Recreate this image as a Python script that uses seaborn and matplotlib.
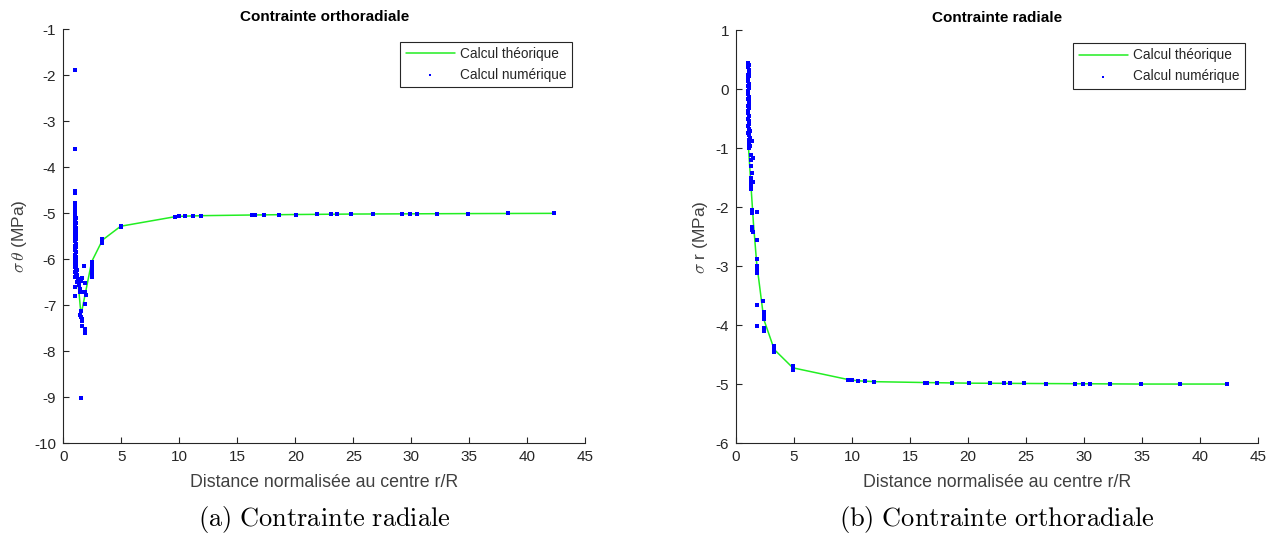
import numpy as np
import pandas as pd
import matplotlib
matplotlib.use("Agg")
import matplotlib.pyplot as plt
import seaborn as sns

# Data
# -------------------------------
# far-field node positions (same mesh on both plots)
far_x = [9.63, 10.0, 10.5, 11.15, 11.87, 16.3, 16.5, 17.3, 18.6, 20.1, 21.9,
         23.1, 23.6, 24.8, 26.7, 29.2, 29.9, 30.5, 32.2, 34.9, 38.3, 42.3]
far_ortho = [-5.07, -5.065, -5.06, -5.055, -5.05, -5.035, -5.035, -5.03, -5.03,
             -5.025, -5.02, -5.02, -5.02, -5.015, -5.015, -5.01, -5.01, -5.01,
             -5.008, -5.005, -5.003, -5.0]
far_radial = [-4.92, -4.93, -4.94, -4.95, -4.955, -4.97, -4.97, -4.97, -4.975,
              -4.98, -4.98, -4.985, -4.985, -4.985, -4.99, -4.99, -4.99, -4.99,
              -4.99, -4.995, -4.995, -4.995]

# orthoradial stress, numerical values near the hole
ortho_near_x = [1.00, 1.00, 1.00, 1.02, 1.00, 1.03, 1.00, 1.05, 1.02, 1.07, 1.00,
                1.04, 1.08, 1.02, 1.06, 1.00, 1.10, 1.04, 1.07, 1.01, 1.12, 1.05,
                1.08, 1.02, 1.10, 1.04, 1.12, 1.00, 1.07, 1.00, 1.10, 1.04, 1.14,
                1.02, 1.08, 1.16, 1.05, 1.12, 1.20, 1.00, 1.25, 1.30, 1.18, 1.40,
                1.50, 1.62, 1.35, 1.45, 1.55, 1.80, 1.90, 1.00, 1.00, 1.90, 1.95,
                1.90, 1.45, 1.55, 1.60, 1.62, 1.60, 1.90, 1.90, 1.55, 1.40, 1.50,
                2.45, 2.45, 2.45, 2.45, 2.45, 2.45, 3.38, 3.38, 3.38, 4.95, 4.97]
ortho_near_y = [-1.88, -3.60, -4.52, -4.56, -4.78, -4.84, -4.92, -4.98, -5.05, -5.10,
                -5.14, -5.18, -5.22, -5.27, -5.31, -5.35, -5.38, -5.42, -5.47, -5.52,
                -5.55, -5.60, -5.66, -5.70, -5.74, -5.80, -5.85, -5.90, -5.95, -6.00,
                -6.03, -6.08, -6.12, -6.16, -6.20, -6.24, -6.28, -6.32, -6.35, -6.38,
                -6.42, -6.46, -6.50, -6.44, -6.48, -6.40, -6.55, -6.65, -6.72, -6.15,
                -6.52, -6.60, -6.80, -6.70, -6.78, -6.97, -7.22, -7.25, -7.30, -7.35,
                -7.45, -7.51, -7.60, -9.02, -6.72, -7.12,
                -6.05, -6.12, -6.18, -6.25, -6.32, -6.38, -5.56, -5.60, -5.64,
                -5.28, -5.30]

# orthoradial stress, theoretical curve
ortho_th_x = [1.2, 1.35, 1.53, 2.45, 3.38, 4.95, 9.7, 10.5, 12.0, 16.5, 20.1,
              25.0, 30.0, 35.0, 42.3]
ortho_th_y = [-6.40, -6.70, -7.21, -6.05, -5.58, -5.28, -5.07, -5.06, -5.05,
              -5.035, -5.025, -5.015, -5.01, -5.005, -5.0]

# radial stress, numerical values near the hole
radial_near_x = [1.05, 1.10, 1.02, 1.08, 1.12, 1.04, 1.10, 1.00, 1.07, 1.13, 1.03,
                 1.09, 1.00, 1.06, 1.12, 1.02, 1.08, 1.14, 1.04, 1.10, 1.00, 1.07,
                 1.13, 1.03, 1.09, 1.15, 1.05, 1.11, 1.18, 1.07, 1.13, 1.20, 1.10,
                 1.35, 1.16, 1.22, 1.12,
                 1.25, 1.50, 1.30, 1.28, 1.40, 1.30, 1.50, 1.25, 1.32, 1.30, 1.40,
                 1.42, 1.80, 1.40, 1.42, 1.43, 1.78, 1.78, 1.78, 1.78, 1.78, 1.78,
                 1.78, 2.35, 2.40, 2.40, 2.40, 2.42, 2.42, 3.30, 3.30, 3.30, 4.90,
                 4.90, 4.92]
radial_near_y = [0.45, 0.42, 0.38, 0.33, 0.30, 0.25, 0.22, 0.18, 0.14, 0.10, 0.05,
                 0.02, -0.03, -0.07, -0.12, -0.16, -0.20, -0.24, -0.28, -0.32, -0.36,
                 -0.40, -0.45, -0.50, -0.54, -0.58, -0.62, -0.67, -0.70, -0.74, -0.78,
                 -0.82, -0.86, -0.88, -0.92, -0.96, -0.99,
                 -1.12, -1.16, -1.20, -1.30, -1.41, -1.50, -1.57, -1.56, -1.62, -1.68,
                 -2.05, -2.10, -2.07, -2.33, -2.38, -2.42, -2.56, -2.87, -3.00, -3.06,
                 -3.12, -3.66, -4.01, -3.59, -3.77, -3.84, -3.90, -4.04, -4.10, -4.35,
                 -4.40, -4.46, -4.69, -4.73, -4.76]

# radial stress, theoretical curve
radial_th_x = [1.05, 1.2, 1.5, 1.78, 2.4, 3.3, 4.9, 9.7, 10.5, 12.0, 16.5, 20.1,
               25.0, 30.0, 35.0, 42.3]
radial_th_y = [-0.90, -1.36, -2.26, -2.94, -3.90, -4.41, -4.72, -4.92, -4.94,
               -4.955, -4.97, -4.98, -4.985, -4.99, -4.995, -4.995]

# Plot
# -------------------------------
sns.set_style("ticks")
plt.rcParams["font.family"] = ["Liberation Sans", "DejaVu Sans"]
plt.rcParams["mathtext.fontset"] = "cm"
plt.rcParams["axes.unicode_minus"] = False
plt.rcParams["xtick.direction"] = "in"
plt.rcParams["ytick.direction"] = "in"
grey = "#262626"
plt.rcParams["axes.edgecolor"] = grey
plt.rcParams["xtick.color"] = grey
plt.rcParams["ytick.color"] = grey
plt.rcParams["axes.labelcolor"] = "#404040"

fig = plt.figure(figsize=(12.78, 5.39), dpi=100)
ax1 = fig.add_axes([0.0495, 0.1775, 0.4085, 0.768])
ax2 = fig.add_axes([0.5759, 0.1775, 0.4085, 0.766])

panels = [
    (ax1, ortho_th_x, ortho_th_y, ortho_near_x + far_x, ortho_near_y + far_ortho,
     "Contrainte orthoradiale", r"$\sigma\,\theta$ (MPa)", (-10, -1),
     r"$\mathrm{(a)\ Contrainte\ radiale}$"),
    (ax2, radial_th_x, radial_th_y, radial_near_x + far_x, radial_near_y + far_radial,
     "Contrainte radiale", r"$\sigma$ r (MPa)", (-6, 1),
     r"$\mathrm{(b)\ Contrainte\ orthoradiale}$"),
]

for ax, tx, ty, nx, ny, title, ylab, ylim, caption in panels:
    sns.lineplot(x=tx, y=ty, ax=ax, color="#22ee22", linewidth=1.1,
                 estimator=None, sort=False, label="Calcul théorique")
    sns.scatterplot(x=nx, y=ny, ax=ax, color="#0000ff", marker="s", s=7,
                    linewidth=0, label="Calcul numérique", zorder=3)
    ax.set_xlim(0, 45)
    ax.set_ylim(*ylim)
    ax.set_xticks(range(0, 46, 5))
    ax.set_yticks(range(ylim[0], ylim[1] + 1))
    ax.tick_params(labelsize=11, length=4, width=0.8, pad=5)
    ax.set_title(title, fontsize=11, fontweight="bold", color="black", pad=6)
    ax.set_xlabel("Distance normalisée au centre r/R", fontsize=12.8, labelpad=7)
    ax.set_ylabel(ylab, fontsize=12.5, labelpad=4)
    sns.despine(ax=ax)
    leg = ax.legend(loc="upper right", bbox_to_anchor=(0.975, 0.97), borderaxespad=0,
                    fontsize=9.8, fancybox=False, framealpha=1, edgecolor=grey,
                    handlelength=3.6, handletextpad=0.4, markerscale=0.8)
    leg.get_frame().set_linewidth(0.8)
    pos = ax.get_position()
    fig.text(pos.x0 + pos.width / 2, 0.008, caption, ha="center", va="bottom",
             fontsize=19, color="black")

fig.savefig("out.png", dpi=100)
